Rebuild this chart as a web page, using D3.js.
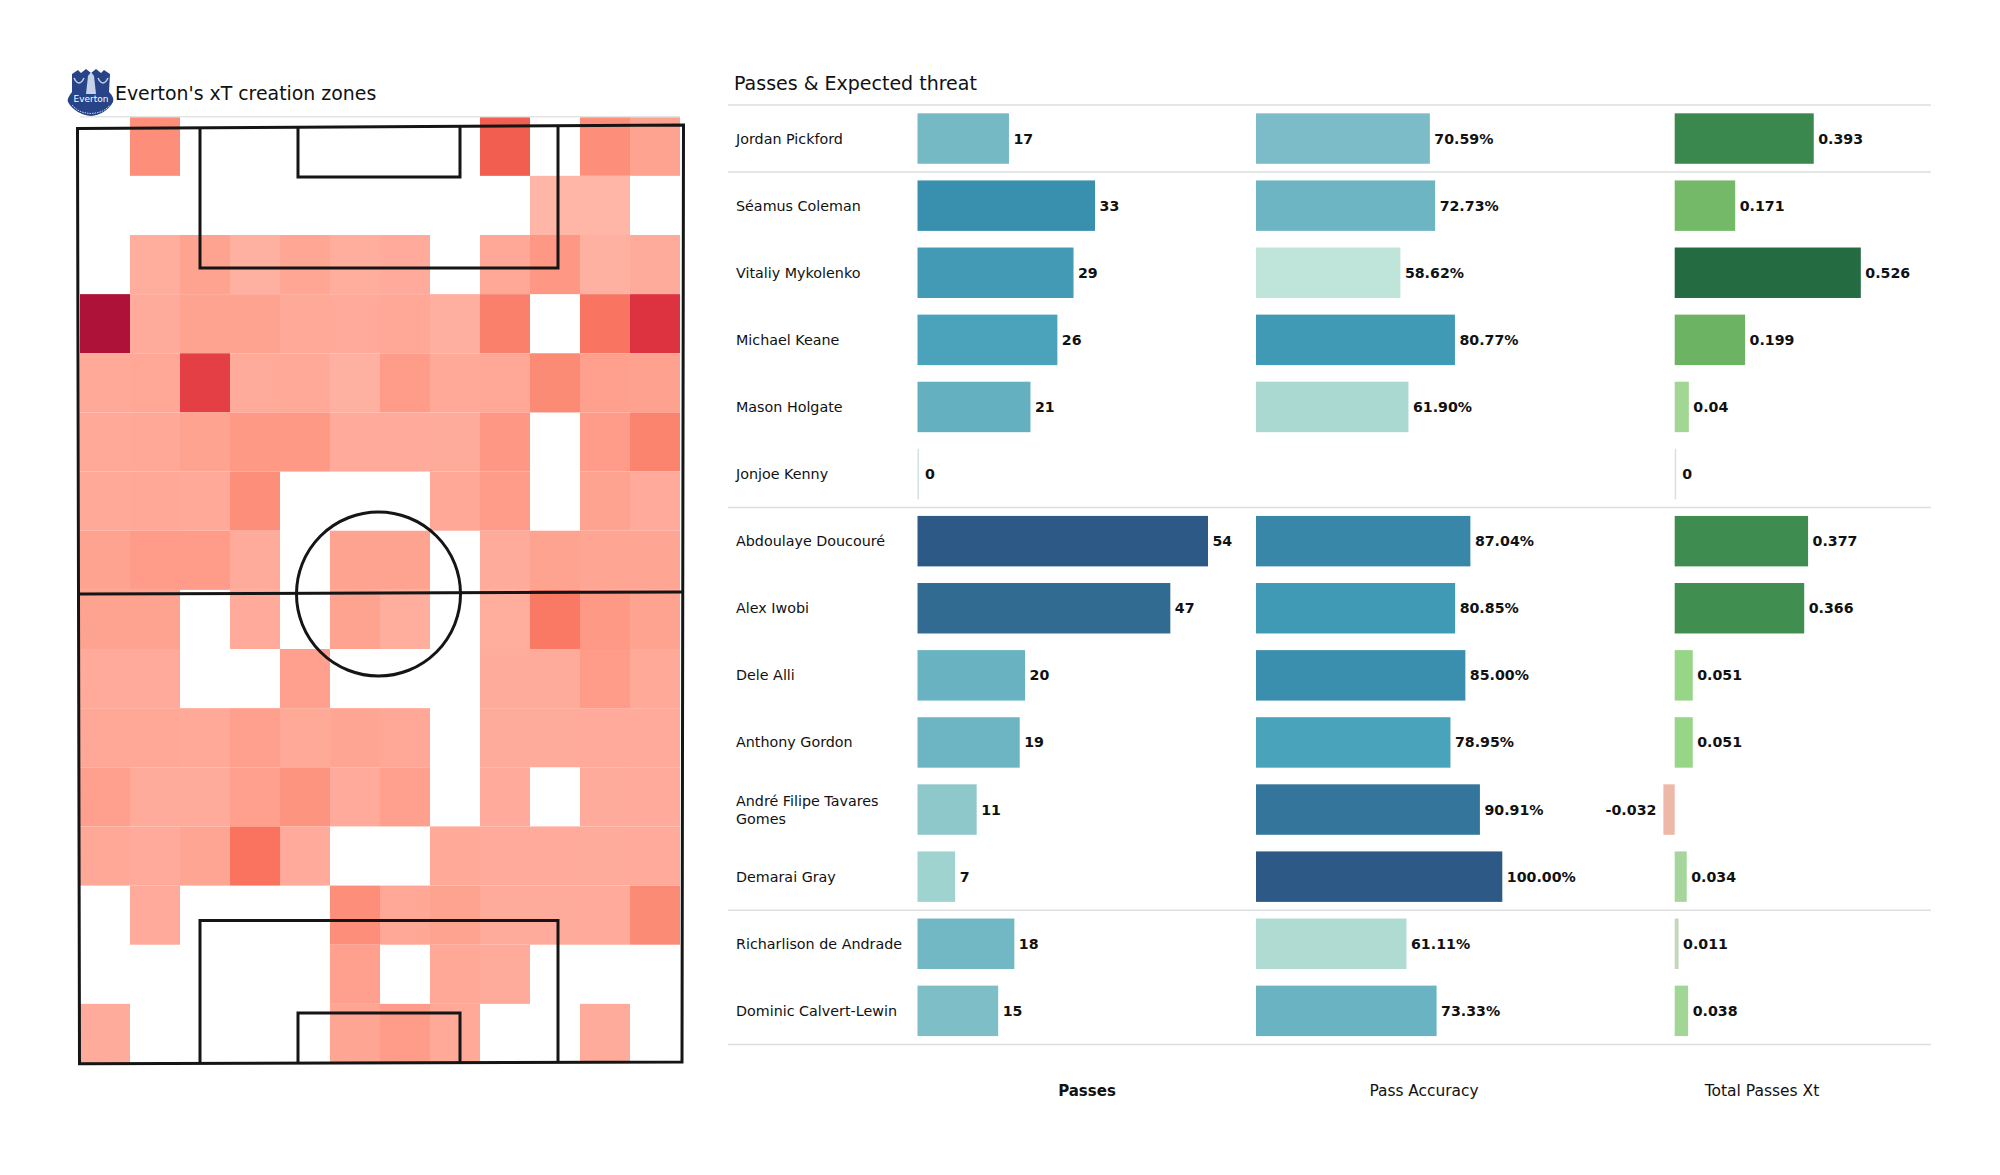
<!DOCTYPE html>
<html>
<head>
<meta charset="utf-8">
<script src="https://cdn.jsdelivr.net/npm/d3@7"></script>
<style>
  html, body { margin: 0; background: #fff; }
  text { font-family: "DejaVu Sans", sans-serif; fill: #111; }
</style>
</head>
<body>
<svg id="chart" width="2000" height="1175"></svg>
<script>
const players = ["Jordan Pickford", "Séamus Coleman", "Vitaliy Mykolenko", "Michael Keane", "Mason Holgate", "Jonjoe Kenny",
  "Abdoulaye Doucouré", "Alex Iwobi", "Dele Alli", "Anthony Gordon", "André Filipe Tavares Gomes", "Demarai Gray",
  "Richarlison de Andrade", "Dominic Calvert-Lewin"];
const passes = [17, 33, 29, 26, 21, 0, 54, 47, 20, 19, 11, 7, 18, 15];
const accuracy = [70.59, 72.73, 58.62, 80.77, 61.90, null, 87.04, 80.85, 85.00, 78.95, 90.91, 100.00, 61.11, 73.33];
const xt = [0.393, 0.171, 0.526, 0.199, 0.04, 0, 0.377, 0.366, 0.051, 0.051, -0.032, 0.034, 0.011, 0.038];
// index of the first player of each position group
const groupStarts = [0, 1, 6, 12, 14];

// xT zones, top row first, null is an empty zone
const zones = [
  [null, .30, null, null, null, null, null, null, .62, null, .30, .18],
  [null, null, null, null, null, null, null, null, null, .03, .03, null],
  [null, .10, .18, .07, .16, .10, .13, null, .15, .25, .07, .12],
  [1, .12, .18, .18, .14, .13, .15, .09, .38, null, .44, .80],
  [.14, .15, .75, .12, .14, .07, .22, .14, .15, .32, .20, .19],
  [.14, .15, .18, .24, .24, .13, .13, .12, .25, null, .22, .36],
  [.14, .15, .14, .30, null, null, null, .15, .22, null, .18, .13],
  [.18, .22, .22, .12, null, .18, .18, null, .12, .18, .17, .17],
  [.18, .18, null, .13, null, .18, .11, null, .11, .42, .24, .18],
  [.13, .13, null, null, .20, null, null, null, .12, .12, .22, .14],
  [.15, .15, .14, .20, .14, .17, .15, null, .12, .12, .13, .13],
  [.20, .12, .12, .20, .27, .13, .20, null, .13, null, .12, .13],
  [.15, .13, .17, .45, .13, null, null, .14, .13, .13, .12, .13],
  [null, .13, null, null, null, .30, .15, .18, .12, .12, .13, .32],
  [null, null, null, null, null, .20, null, .15, .12, null, null, null],
  [.12, null, null, null, null, .17, .22, .14, null, null, .12, null]
];

const svg = d3.select("#chart");

// ---- heatmap ----
const zoneX = d3.scaleBand().domain(d3.range(12)).range([80, 680]);
const zoneY = d3.scaleBand().domain(d3.range(16)).range([116.7, 1063]);
const zoneColor = d3.scaleLinear()
  .domain([0, .15, .30, .45, .62, .80, 1])
  .range(["#ffb9aa", "#ffa897", "#fd8f7a", "#f9735f", "#f25f50", "#dd3340", "#ae1239"]);

const heat = svg.append("g");
zones.forEach((row, r) => {
  heat.selectAll(null)
    .data(row.map((v, c) => ({ v, c })).filter(d => d.v !== null))
    .enter()
    .append("rect")
    .attr("x", d => zoneX(d.c))
    .attr("y", zoneY(r))
    .attr("width", zoneX.bandwidth())
    .attr("height", zoneY.bandwidth())
    .attr("fill", d => zoneColor(d.v));
});

svg.append("line").attr("x1", 80).attr("x2", 680).attr("y1", 116.7).attr("y2", 116.7)
  .attr("stroke", "#e4e4e4").attr("stroke-width", 1.5);

// pitch is slightly skewed in the picture, so corners are not quite square
const pitch = svg.append("g").attr("fill", "none").attr("stroke", "#151515").attr("stroke-width", 3);
const pitchPath = d3.line();
pitch.append("path").attr("d", pitchPath([[77.5, 128.5], [683.5, 125], [682, 1062], [79.5, 1063.7]]) + "Z");
pitch.append("path").attr("d", pitchPath([[78, 594], [683, 592]]));
pitch.append("path").attr("d", pitchPath([[200, 128], [200, 268], [558, 268], [558, 126]]));
pitch.append("path").attr("d", pitchPath([[298, 127.5], [298, 177], [460, 177], [460, 126.5]]));
pitch.append("path").attr("d", pitchPath([[200, 1063], [200, 920.5], [558, 920.5], [558, 1062]]));
pitch.append("path").attr("d", pitchPath([[298, 1063], [298, 1013], [460, 1013], [460, 1062]]));
pitch.append("circle").attr("cx", 378.5).attr("cy", 594).attr("r", 82);

// club crest, small hand drawn version
const crest = svg.append("g");
crest.append("path")
  .attr("d", "M72 74 L78 70 L81 73 L86 69 L91 73 L96 69 L101 73 L104 70 L110 74 L109 92 C113 96 114 99 113 102 C108 111 100 115 91 116 C82 115 73 111 68 102 C67 99 69 96 72 92 Z")
  .attr("fill", "#274488");
crest.append("path")
  .attr("d", "M88 76 L91 72 L94 76 L96 94 L86 94 Z")
  .attr("fill", "#c7d2e6");
crest.append("path")
  .attr("d", "M74 78 Q79 88 84 78 M98 78 Q103 88 108 78")
  .attr("fill", "none").attr("stroke", "#c7d2e6").attr("stroke-width", 1.5);
crest.append("path")
  .attr("d", "M72 105 C78 112 84 113 91 113.5 C98 113 104 112 110 105")
  .attr("fill", "none").attr("stroke", "#c7d2e6").attr("stroke-width", 1).attr("stroke-dasharray", "1.5 1");
crest.append("text").attr("x", 91).attr("y", 102).attr("text-anchor", "middle")
  .attr("font-size", 9).style("fill", "#fff").text("Everton");

svg.append("text").attr("x", 115).attr("y", 100).attr("font-size", 18.9).text("Everton's xT creation zones");

// ---- bars ----
const y = d3.scaleBand().domain(players).range([105, 1044.4]).paddingInner(.248).paddingOuter(.124);

svg.append("text").attr("x", 734).attr("y", 90).attr("font-size", 19).text("Passes & Expected threat");

groupStarts.forEach(i => {
  const ly = 105 + i * y.step();
  svg.append("line").attr("x1", 728).attr("x2", 1931).attr("y1", ly).attr("y2", ly)
    .attr("stroke", "#dedede").attr("stroke-width", 1.5);
});

const names = svg.append("g").selectAll("text").data(players).enter().append("text")
  .attr("x", 736)
  .attr("y", d => y(d) + y.bandwidth() / 2 + 5)
  .attr("font-size", 14.3);
names.filter(d => d !== "André Filipe Tavares Gomes").text(d => d);
const wrapped = names.filter(d => d === "André Filipe Tavares Gomes");
wrapped.append("tspan").attr("x", 736).attr("dy", -8.5).text("André Filipe Tavares");
wrapped.append("tspan").attr("x", 736).attr("dy", 17.5).text("Gomes");

function barColumn(values, xScale, color, fmt) {
  const rows = players.map((name, i) => ({ name, v: values[i] })).filter(d => d.v !== null);
  const g = svg.append("g");
  g.selectAll("rect").data(rows).enter().append("rect")
    .attr("x", d => Math.min(xScale(0), xScale(d.v)))
    .attr("y", d => y(d.name))
    .attr("width", d => Math.max(Math.abs(xScale(d.v) - xScale(0)), 1.5))
    .attr("height", y.bandwidth())
    .attr("fill", d => color(d.v));
  g.selectAll("text").data(rows).enter().append("text")
    .attr("x", d => d.v < 0 ? xScale(d.v) - 7 : xScale(d.v) + (d.v === 0 ? 7.5 : 4.5))
    .attr("y", d => y(d.name) + y.bandwidth() / 2 + 5)
    .attr("text-anchor", d => d.v < 0 ? "end" : "start")
    .attr("font-size", 14.2)
    .attr("font-weight", "bold")
    .text(d => fmt(d.v));
}

const passX = d3.scaleLinear().domain([0, 54]).range([917.5, 1208]);
const passColor = d3.scaleLinear()
  .domain([0, 7, 11, 17, 21, 26, 33, 47, 54])
  .range(["#cfe3e3", "#9fd3cf", "#8fc8cb", "#75b9c5", "#64b0c0", "#4aa3ba", "#398fae", "#326b92", "#2c5985"]);
barColumn(passes, passX, passColor, d => String(d));

const accX = d3.scaleLinear().domain([0, 100]).range([1256, 1502.3]);
const accColor = d3.scaleLinear()
  .domain([58.62, 61.5, 70.59, 73, 78.95, 80.8, 85, 90.91, 100])
  .range(["#bfe4d9", "#acdad2", "#7bbcc8", "#6cb4c2", "#48a3bb", "#419ab5", "#3a8fae", "#34759c", "#2c5985"]);
barColumn(accuracy, accX, accColor, d => d.toFixed(2) + "%");

const xtX = d3.scaleLinear().domain([0, 0.526]).range([1674.7, 1860.8]);
const xtColor = d3.scaleLinear()
  .domain([-0.032, 0, 0.011, 0.034, 0.051, 0.171, 0.199, 0.377, 0.526])
  .range(["#eeb8a8", "#dddddd", "#c2d7bd", "#a6d69b", "#97d587", "#74b968", "#6cb463", "#3e8c50", "#256b42"]);
barColumn(xt, xtX, xtColor, d => String(d));

// column captions
svg.append("text").attr("x", 1087).attr("y", 1096).attr("text-anchor", "middle")
  .attr("font-size", 15).attr("font-weight", "bold").text("Passes");
svg.append("text").attr("x", 1424).attr("y", 1096).attr("text-anchor", "middle")
  .attr("font-size", 15.4).text("Pass Accuracy");
svg.append("text").attr("x", 1762).attr("y", 1096).attr("text-anchor", "middle")
  .attr("font-size", 15.5).text("Total Passes Xt");
</script>
</body>
</html>
